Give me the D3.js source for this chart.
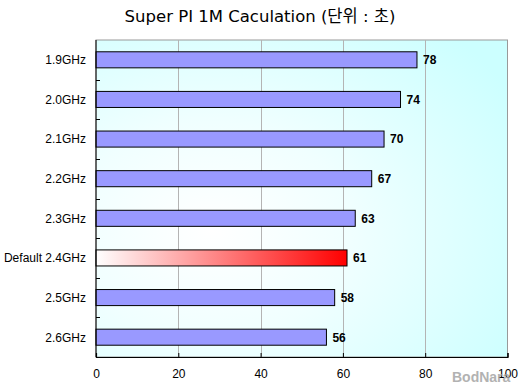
<!DOCTYPE html>
<html>
<head>
<meta charset="utf-8">
<script src="https://cdn.jsdelivr.net/npm/d3@7"></script>
<style>
  body { margin: 0; background: #fff; }
  svg { display: block; }
</style>
</head>
<body>
<svg width="522" height="384"></svg>
<script>
// Chart data
const categories = ["1.9GHz", "2.0GHz", "2.1GHz", "2.2GHz", "2.3GHz", "Default 2.4GHz", "2.5GHz", "2.6GHz"];
const seconds = [78, 74, 70, 67, 63, 61, 58, 56];
const xTicks = [0, 20, 40, 60, 80, 100];
const highlight = "Default 2.4GHz";
const title = "Super PI 1M Caculation (단위 : 초)";

const width = 522, height = 384;
const margin = { top: 40, right: 14.5, bottom: 27, left: 96 };
const svg = d3.select("svg");
const defs = svg.append("defs");

// background gradient of the plot area
const bg = defs.append("radialGradient")
    .attr("id", "bg")
    .attr("cx", "0.28").attr("cy", "0.6").attr("r", "0.85");
bg.append("stop").attr("offset", "0%").attr("stop-color", "#ffffff");
bg.append("stop").attr("offset", "40%").attr("stop-color", "#f0ffff");
bg.append("stop").attr("offset", "100%").attr("stop-color", "#ccffff");

// highlighted bar gradient
const red = defs.append("linearGradient").attr("id", "redbar");
red.append("stop").attr("offset", "0%").attr("stop-color", "#ffffff");
red.append("stop").attr("offset", "100%").attr("stop-color", "#ff0000");

const x = d3.scaleLinear()
    .domain([0, 100])
    .range([margin.left, width - margin.right]);

const y = d3.scaleBand()
    .domain(categories)
    .range([margin.top, height - margin.bottom])
    .paddingInner(0.595)
    .paddingOuter(0.2975);

const plotTop = margin.top, plotBottom = height - margin.bottom;

// plot background
svg.append("rect")
    .attr("x", x(0)).attr("y", plotTop)
    .attr("width", x(100) - x(0)).attr("height", plotBottom - plotTop)
    .attr("fill", "url(#bg)")
    .attr("stroke", "#999").attr("stroke-width", 1);

// gridlines
svg.append("g")
    .selectAll("line")
    .data(xTicks.filter(d => d > 0 && d < 100))
    .join("line")
    .attr("x1", d => Math.round(x(d)) + 0.5).attr("x2", d => Math.round(x(d)) + 0.5)
    .attr("y1", plotTop).attr("y2", plotBottom)
    .attr("stroke", "#b4b4b4");

// bars
svg.append("g")
    .selectAll("rect")
    .data(categories)
    .join("rect")
    .attr("x", x(0))
    .attr("y", d => y(d))
    .attr("width", (d, i) => x(seconds[i]) - x(0))
    .attr("height", y.bandwidth())
    .attr("fill", d => d === highlight ? "url(#redbar)" : "#9999ff")
    .attr("stroke", "#000")
    .attr("stroke-width", 1);

// value labels
svg.append("g")
    .selectAll("text")
    .data(categories)
    .join("text")
    .attr("x", (d, i) => x(seconds[i]) + 6)
    .attr("y", d => y(d) + y.bandwidth() / 2)
    .attr("dy", "0.36em")
    .attr("font-family", "Liberation Sans, Arial, sans-serif")
    .attr("font-size", 12)
    .attr("font-weight", "bold")
    .attr("fill", "#000")
    .text((d, i) => seconds[i]);

// left axis with ticks between categories
const yAxis = svg.append("g")
    .attr("transform", `translate(${x(0)},0)`);
yAxis.append("line")
    .attr("x1", 0).attr("x2", 0)
    .attr("y1", plotTop).attr("y2", plotBottom)
    .attr("stroke", "#000");
yAxis.selectAll(".tk")
    .data(categories.slice(1))
    .join("line")
    .attr("class", "tk")
    .attr("x1", 0).attr("x2", 4)
    .attr("y1", d => Math.round(y(d) - y.step() * y.paddingInner() / 2) + 0.5)
    .attr("y2", d => Math.round(y(d) - y.step() * y.paddingInner() / 2) + 0.5)
    .attr("stroke", "#000");
yAxis.selectAll("text")
    .data(categories)
    .join("text")
    .attr("x", -10)
    .attr("y", d => y(d) + y.bandwidth() / 2)
    .attr("dy", "0.36em")
    .attr("text-anchor", "end")
    .attr("font-family", "Liberation Sans, Arial, sans-serif")
    .attr("font-size", 12)
    .attr("fill", "#000")
    .text(d => d);

// bottom axis
const xAxis = svg.append("g")
    .attr("transform", `translate(0,${plotBottom})`)
    .call(d3.axisBottom(x).tickValues(xTicks).tickSize(-4).tickPadding(12));
xAxis.select(".domain").attr("stroke", "#000").attr("stroke-width", 1.2);
xAxis.selectAll(".tick line").attr("stroke", "#000");
xAxis.selectAll(".tick text")
    .attr("font-family", "Liberation Sans, Arial, sans-serif")
    .attr("font-size", 12)
    .attr("fill", "#000");

// watermark
svg.append("text")
    .attr("x", 452).attr("y", 382)
    .attr("font-family", "Liberation Sans, Arial, sans-serif")
    .attr("font-size", 14)
    .attr("font-weight", "bold")
    .attr("fill", "#a0a0a0")
    .attr("opacity", 0.8)
    .text("BodNara");

// title
svg.append("text")
    .attr("x", 260).attr("y", 22)
    .attr("text-anchor", "middle")
    .attr("font-family", "DejaVu Sans, Noto Sans CJK KR, sans-serif")
    .attr("font-size", 16.5)
    .attr("fill", "#000")
    .text(title);
</script>
</body>
</html>
